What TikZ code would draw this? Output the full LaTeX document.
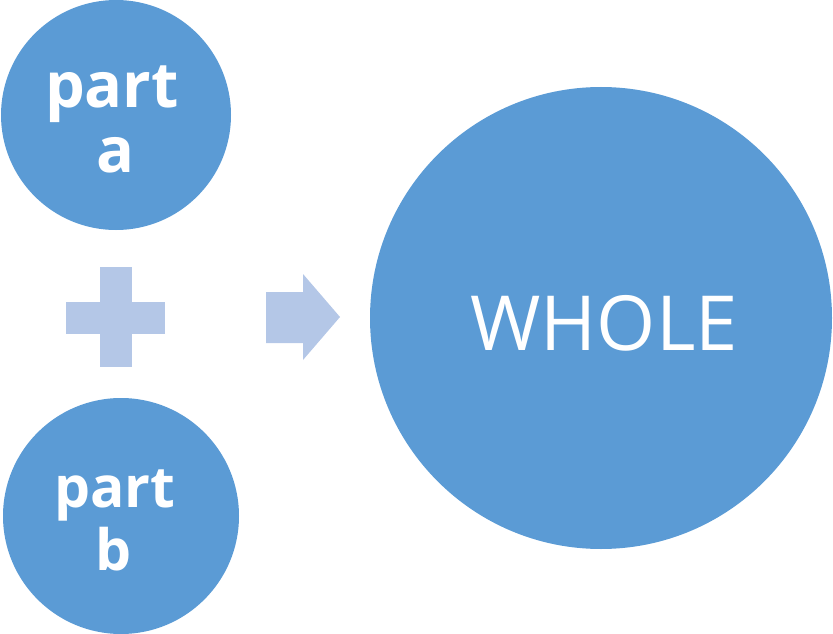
\documentclass[tikz,border=0pt]{standalone}
\usepackage{fontspec}
\setmainfont{Open Sans}
\newfontfamily\lblfont{Open Sans}
\begin{document}
\begin{tikzpicture}[x=1pt,y=-1pt]
\definecolor{mainblue}{HTML}{5B9BD5}
\definecolor{lightblue}{HTML}{B4C7E7}
\tikzset{
  circ/.style={circle,fill=mainblue,draw=none,inner sep=0pt},
  partlbl/.style={text=white,font=\lblfont\bfseries\fontsize{63}{63}\selectfont,inner sep=0pt},
  wholelbl/.style={text=white,font=\lblfont\fontsize{76}{76}\selectfont,inner sep=0pt},
  light/.style={fill=lightblue,draw=none}
}
\useasboundingbox (0,0) rectangle (833,634);
\node[circ,minimum size=230pt] (pa) at (116,115) {};
\node[partlbl,anchor=base] (pat1) at (112,107) {part};
\node[partlbl,anchor=base] (pat2) at (116,172) {a};
\node[circ,minimum size=236pt] (pb) at (121,516) {};
\node[partlbl,anchor=base,font=\lblfont\bfseries\fontsize{57}{57}\selectfont] (pbt1) at (115,507) {part};
\node[partlbl,anchor=base,font=\lblfont\bfseries\fontsize{57}{57}\selectfont] (pbt2) at (114,570) {b};
\node[circ,minimum size=462pt] (wh) at (601,318) {};
\node[wholelbl,anchor=base] (wht) at (604,350) {WHOLE};
% plus
\fill[light] (100,267) rectangle (132,367);
\fill[light] (66,302) rectangle (165,334);
% arrow
\fill[light] (266,292) -- (303,292) -- (303,274) -- (340,317) -- (303,360) -- (303,343) -- (266,343) -- cycle;
\end{tikzpicture}
\end{document}
